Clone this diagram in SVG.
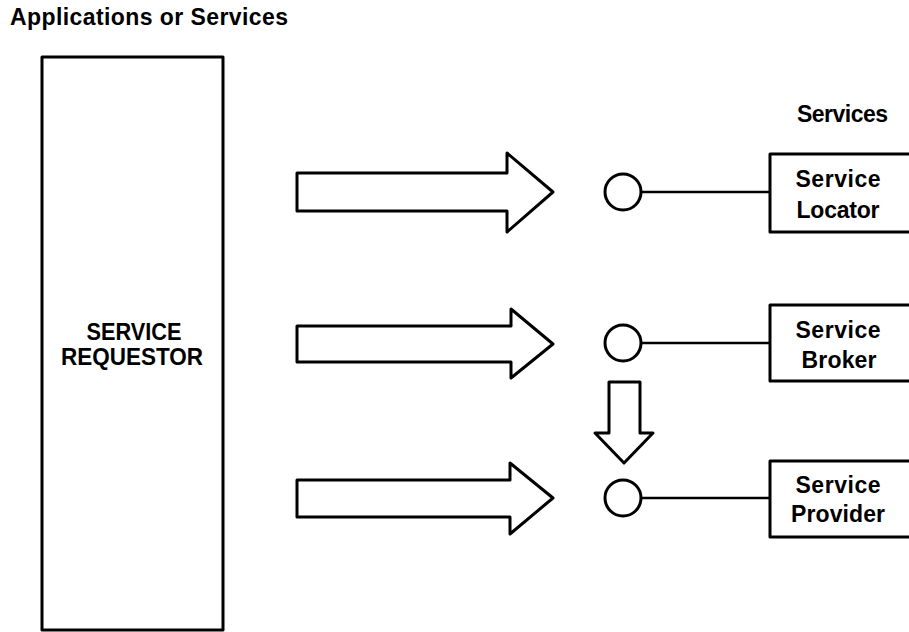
<svg xmlns="http://www.w3.org/2000/svg" width="909" height="632" viewBox="0 0 909 632">
<style>
.s{fill:#fff;stroke:#000;stroke-width:3;stroke-linejoin:round}
.ln{stroke:#000;stroke-width:2.5;fill:none}
.t{font-family:"Liberation Sans",Arial,sans-serif;font-weight:bold;font-size:23px;fill:#000}
.m{text-anchor:middle}
</style>
<rect width="909" height="632" fill="#fff"/>
<text class="t" x="10" y="25" font-size="21" textLength="278" lengthAdjust="spacing">Applications or Services</text>
<text class="t" x="797" y="122" font-size="22" textLength="91" lengthAdjust="spacing">Services</text>
<g id="requestor">
<rect class="s" x="42" y="57" width="181" height="573"/>
<text class="t m" x="134" y="340" textLength="95" lengthAdjust="spacingAndGlyphs">SERVICE</text>
<text class="t m" x="132" y="365" textLength="142" lengthAdjust="spacingAndGlyphs">REQUESTOR</text>
</g>
<g id="locator">
<rect class="s" x="770" y="154" width="200" height="78"/>
<text class="t m" x="838" y="187" textLength="85" lengthAdjust="spacing">Service</text>
<text class="t m" x="838" y="218" textLength="83" lengthAdjust="spacing">Locator</text>
</g>
<g id="broker">
<rect class="s" x="770" y="305" width="200" height="76"/>
<text class="t m" x="838" y="338" textLength="85" lengthAdjust="spacing">Service</text>
<text class="t m" x="839" y="368" textLength="75" lengthAdjust="spacing">Broker</text>
</g>
<g id="provider">
<rect class="s" x="770" y="461" width="200" height="76"/>
<text class="t m" x="838" y="493" textLength="85" lengthAdjust="spacing">Service</text>
<text class="t m" x="838" y="522" textLength="94" lengthAdjust="spacing">Provider</text>
</g>
<g id="connectors">
<polygon class="s" points="297,173 507,173 507,153 553,192 507,232 507,211 297,211"/>
<polygon class="s" points="297,326 511,326 511,309 553,344 511,378 511,362 297,362"/>
<polygon class="s" points="297,480 510,480 510,463 553,498 510,534 510,517 297,517"/>
<polygon class="s" points="609,382 640,382 640,433 653,433 624,463 595,433 609,433"/>
<line class="ln" x1="641" y1="192" x2="770" y2="192"/>
<line class="ln" x1="641" y1="343" x2="770" y2="343"/>
<line class="ln" x1="641" y1="498" x2="770" y2="498"/>
<circle class="s" cx="623" cy="192" r="18" stroke-width="2.5"/>
<circle class="s" cx="623" cy="343" r="18" stroke-width="2.5"/>
<circle class="s" cx="623" cy="498" r="18" stroke-width="2.5"/>
</g>
</svg>
